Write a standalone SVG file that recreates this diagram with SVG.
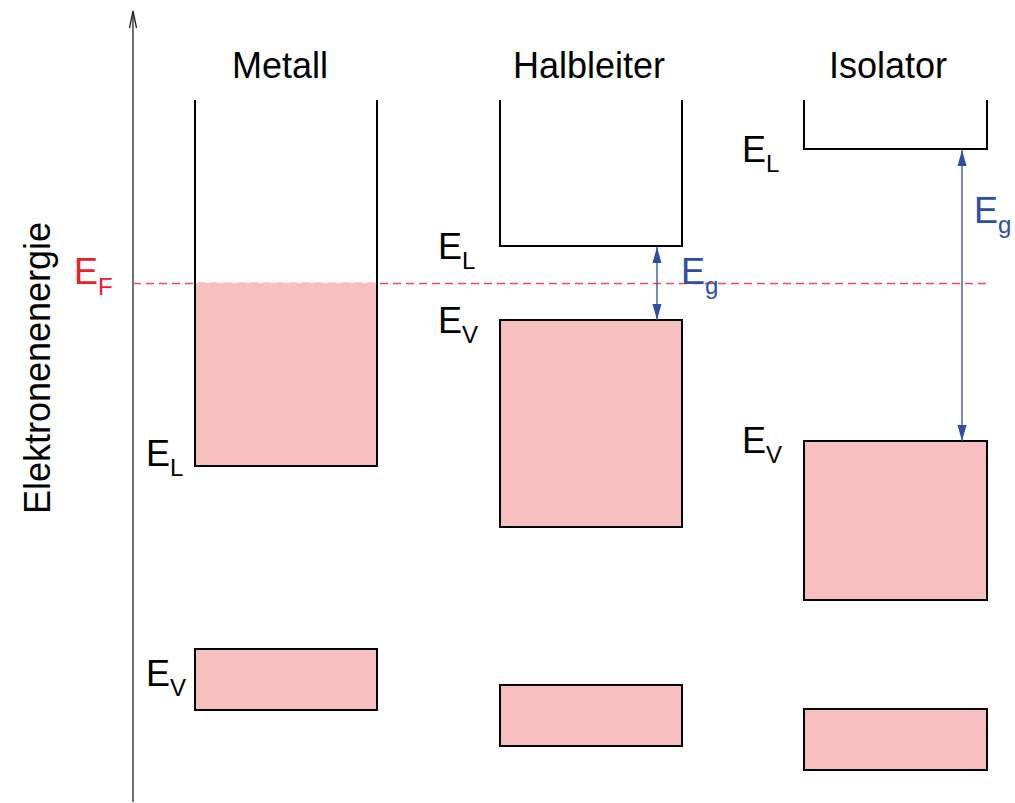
<svg xmlns="http://www.w3.org/2000/svg" width="1015" height="803" viewBox="0 0 1015 803">
<style>
.band{fill:#f8bfbf;stroke:#000;stroke-width:2}
.well{fill:none;stroke:#000;stroke-width:2}
.t{font-family:"Liberation Sans",Arial,sans-serif;font-size:36px;fill:#000}
.s{font-size:24px}
.blue{fill:#2c4fa3}
.red{fill:#e8202a}
.eg{stroke:#2c4fa3;stroke-width:1.3;fill:none}
</style>
<defs>
<marker id="ah" viewBox="0 0 16 10" refX="16" refY="5" markerWidth="16" markerHeight="10" markerUnits="userSpaceOnUse" orient="auto-start-reverse">
<path d="M0,0.5 L16,5 L0,9.5 Z" fill="#2c4fa3"/>
</marker>
</defs>
<rect width="1015" height="803" fill="#fff"/>
<g id="axis">
<line x1="133" y1="802" x2="133" y2="12" stroke="#222" stroke-width="1.3"/>
<path d="M129.5,28 L133,11 L136.5,28" fill="none" stroke="#222" stroke-width="1.3"/>
<text class="t" transform="translate(50,368) rotate(-90)" text-anchor="middle">Elektronenenergie</text>
</g>
<g id="fermi">
<line x1="133" y1="283.5" x2="990" y2="283.5" stroke="#ec4a55" stroke-width="1.3" stroke-dasharray="8,5"/>
<text class="t red" x="74" y="284">E<tspan class="s" dy="11">F</tspan></text>
</g>
<g id="metall">
<text class="t" x="280" y="78" text-anchor="middle">Metall</text>
<rect x="195" y="283" width="182" height="183" fill="#f8bfbf"/>
<path class="well" d="M195,100 V466 H377 V100"/>
<rect class="band" x="195" y="649" width="182" height="61"/>
<text class="t" x="146" y="466">E<tspan class="s" dy="10">L</tspan></text>
<text class="t" x="146" y="686">E<tspan class="s" dy="10">V</tspan></text>
</g>
<g id="halbleiter">
<text class="t" x="589" y="78" text-anchor="middle">Halbleiter</text>
<path class="well" d="M500,100 V246 H682 V100"/>
<rect class="band" x="500" y="320" width="182" height="207"/>
<rect class="band" x="500" y="685" width="182" height="61"/>
<text class="t" x="438" y="259">E<tspan class="s" dy="10">L</tspan></text>
<text class="t" x="438" y="333">E<tspan class="s" dy="10">V</tspan></text>
</g>
<g id="isolator">
<text class="t" x="888" y="78" text-anchor="middle">Isolator</text>
<path class="well" d="M804,100 V149 H987 V100"/>
<rect class="band" x="804" y="441" width="183" height="159"/>
<rect class="band" x="804" y="709" width="183" height="61"/>
<text class="t" x="742" y="162">E<tspan class="s" dy="10">L</tspan></text>
<text class="t" x="742" y="453">E<tspan class="s" dy="10">V</tspan></text>
</g>
<g id="connectors">
<line class="eg" x1="657" y1="247" x2="657" y2="320" marker-start="url(#ah)" marker-end="url(#ah)"/>
<text class="t blue" x="681" y="284">E<tspan class="s" dy="10">g</tspan></text>
<line class="eg" x1="962" y1="150" x2="962" y2="441" marker-start="url(#ah)" marker-end="url(#ah)"/>
<text class="t blue" x="974" y="223">E<tspan class="s" dy="10">g</tspan></text>
</g>
</svg>
